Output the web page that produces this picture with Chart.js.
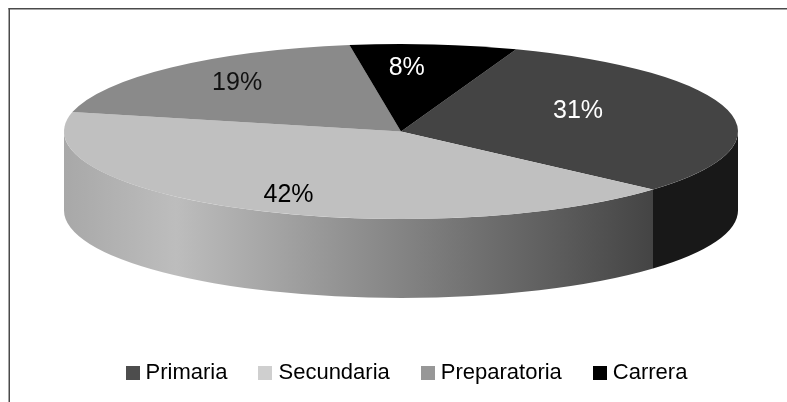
<!DOCTYPE html>
<html>
<head>
<meta charset="utf-8">
<style>html,body{margin:0;padding:0;background:#fff}canvas{display:block}</style>
<script src="https://cdn.jsdelivr.net/npm/chart.js@4"></script>
</head>
<body>
<canvas id="c" width="787" height="402"></canvas>
<script>
const categories = ['Primaria', 'Secundaria', 'Preparatoria', 'Carrera'];
const percentages = [31, 42, 19, 8];
const topColors = ['#444444', '#c0c0c0', '#8a8a8a', '#000000'];
const legendColors = ['#4d4d4d', '#cfcfcf', '#979797', '#000000'];
const labelColors = ['#ffffff', '#000000', '#111111', '#ffffff'];

// geometry of the tilted disc
const DISC = {cx: 401, cy: 131.5, rx: 337, ry: 87.5, depth: 79};
const labelShift = [[-19, -8], [-20, 17], [-26, -10], [-14, -11]];

function swatch(color) {
  const s = document.createElement('canvas');
  s.width = 14; s.height = 14;
  const g = s.getContext('2d');
  g.fillStyle = color; g.fillRect(0, 0, 14, 14);
  return s;
}

function wallFill(ctx, i) {
  if (i === 0) return '#181818';
  const g = ctx.createLinearGradient(DISC.cx - DISC.rx, 0, 653, 0);
  g.addColorStop(0, '#a8a8a8');
  g.addColorStop(0.19, '#bdbdbd');
  g.addColorStop(1, '#444444');
  return g;
}

const pageFrame = {
  id: 'pageFrame',
  beforeDraw(chart) {
    const ctx = chart.ctx;
    ctx.save();
    ctx.fillStyle = '#fff';
    ctx.fillRect(0, 0, chart.width, chart.height);
    ctx.fillStyle = '#4a4a4a';
    ctx.fillRect(8.5, 8, 1.5, chart.height - 8);
    ctx.fillRect(8.5, 8, chart.width - 8.5, 1.5);
    ctx.restore();
  }
};

const disc3d = {
  id: 'disc3d',
  beforeDatasetsDraw(chart) {
    const ctx = chart.ctx;
    const arcs = chart.getDatasetMeta(0).data;
    ctx.save();
    // side wall: front half of each slice
    arcs.forEach((arc, i) => {
      const TAU = Math.PI * 2;
      let a0 = arc.startAngle, a1 = arc.endAngle;
      while (a0 < 0) { a0 += TAU; a1 += TAU; }
      while (a0 >= TAU) { a0 -= TAU; a1 -= TAU; }
      [[a0, a1], [a0 - TAU, a1 - TAU]].forEach(([p, q]) => {
        const s = Math.max(p, 0), e = Math.min(q, Math.PI);
        if (e <= s) return;
        ctx.beginPath();
        ctx.ellipse(DISC.cx, DISC.cy, DISC.rx, DISC.ry, 0, s, e);
        ctx.ellipse(DISC.cx, DISC.cy + DISC.depth, DISC.rx, DISC.ry, 0, e, s, true);
        ctx.closePath();
        ctx.fillStyle = wallFill(ctx, i);
        ctx.fill();
      });
    });
    // flatten the library's arcs onto the disc's top face
    const a = arcs[0];
    const R = a.outerRadius;
    ctx.translate(DISC.cx, DISC.cy);
    ctx.scale(DISC.rx / R, DISC.ry / R);
    ctx.translate(-a.x, -a.y);
  },
  afterDatasetsDraw(chart) {
    const ctx = chart.ctx;
    ctx.restore();
    const arcs = chart.getDatasetMeta(0).data;
    ctx.save();
    ctx.font = '25px "Liberation Sans", Arial, sans-serif';
    ctx.textAlign = 'center';
    ctx.textBaseline = 'middle';
    arcs.forEach((arc, i) => {
      const mid = (arc.startAngle + arc.endAngle) / 2;
      const x = DISC.cx + DISC.rx * 0.6 * Math.cos(mid) + labelShift[i][0];
      const y = DISC.cy + DISC.ry * 0.6 * Math.sin(mid) + labelShift[i][1];
      ctx.fillStyle = labelColors[i];
      ctx.fillText(percentages[i] + '%', x, y);
    });
    ctx.restore();
  }
};

new Chart(document.getElementById('c'), {
  type: 'pie',
  data: {
    labels: categories,
    datasets: [{
      data: percentages,
      backgroundColor: topColors,
      borderWidth: 0,
      clip: false
    }]
  },
  options: {
    responsive: false,
    animation: false,
    devicePixelRatio: 1,
    rotation: 20,
    layout: {padding: {left: 31, right: 0, top: 0, bottom: 8}},
    plugins: {
      tooltip: {enabled: false},
      legend: {
        position: 'bottom',
        labels: {
          color: '#000',
          font: {family: '"Liberation Sans", Arial, sans-serif', size: 22},
          padding: 36,
          usePointStyle: true,
          pointStyleWidth: 4,
          generateLabels() {
            return categories.map((t, i) => ({
              text: t,
              pointStyle: swatch(legendColors[i]),
              fillStyle: legendColors[i],
              strokeStyle: legendColors[i],
              lineWidth: 0,
              hidden: false,
              index: i,
              datasetIndex: 0
            }));
          }
        }
      }
    }
  },
  plugins: [pageFrame, disc3d]
});
</script>
</body>
</html>
